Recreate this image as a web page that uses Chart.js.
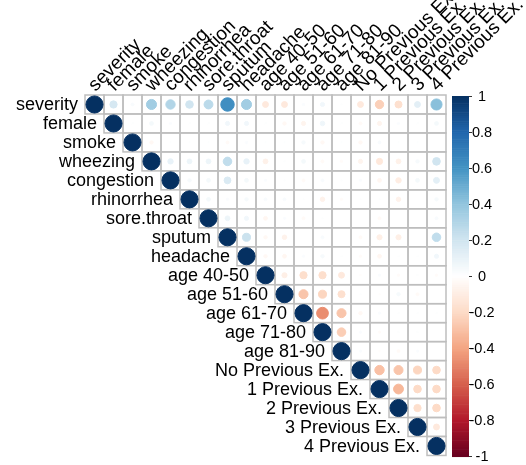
<!DOCTYPE html>
<html><head><meta charset="utf-8">
<script src="https://cdn.jsdelivr.net/npm/chart.js@4"></script>
<style>html,body{margin:0;padding:0;background:#fff}</style>
</head><body>
<canvas id="c" width="526" height="465"></canvas>
<script>
// variable names (rows and columns)
const variables = ["severity","female","smoke","wheezing","congestion","rhinorrhea","sore.throat","sputum","headache","age 40-50","age 51-60","age 61-70","age 71-80","age 81-90","No Previous Ex.","1 Previous Ex.","2 Previous Ex.","3 Previous Ex.","4 Previous Ex."];

// upper-triangle correlations, each row starts at the diagonal
const severity   = [1, 0.18, 0.03, 0.35, 0.30, 0.20, 0.27, 0.62, 0.35, -0.12, -0.12, 0.02, 0.06, 0.01, -0.12, -0.24, -0.17, 0.12, 0.42];
const female     = [1, 0.01, 0.05, 0.02, 0.01, 0.01, 0.06, 0.06, 0.01, -0.04, -0.06, 0.07, 0.01, -0.03, -0.06, 0.02, 0.01, 0.05];
const smoke      = [1, -0.04, 0.01, 0.01, 0.01, -0.03, 0.02, 0.01, 0.01, 0.04, -0.04, 0.01, -0.04, 0.03, 0.01, 0.01, 0.0];
const wheezing   = [1, 0.10, 0.08, 0.08, 0.25, 0.10, -0.08, 0.01, 0.05, -0.03, -0.02, -0.06, -0.13, -0.08, 0.04, 0.20];
const congestion = [1, 0.04, 0.05, 0.16, 0.05, 0.02, 0.01, -0.03, 0.03, 0.01, 0.02, -0.05, -0.10, 0.05, 0.12];
const rhinorrhea = [1, 0.05, 0.02, 0.04, 0.03, 0.03, 0.01, -0.07, -0.02, 0.01, 0.01, -0.07, 0.0, 0.04];
const soreThroat = [1, 0.08, 0.06, -0.05, 0.02, -0.03, 0.01, 0.0, 0.0, -0.03, 0.0, 0.0, 0.03];
const sputum     = [1, 0.22, -0.04, -0.07, 0.0, 0.03, 0.0, -0.03, -0.09, -0.09, 0.0, 0.25];
const headache   = [1, -0.04, -0.05, 0.02, 0.04, 0.01, -0.02, -0.05, 0.01, 0.01, 0.06];
const age4050    = [1, -0.09, -0.18, -0.18, -0.12, -0.01, 0.02, -0.02, 0.01, -0.02];
const age5160    = [1, -0.28, -0.22, -0.17, 0.01, -0.01, 0.04, -0.03, 0.0];
const age6170    = [1, -0.47, -0.28, -0.04, 0.02, 0.01, 0.01, 0.01];
const age7180    = [1, -0.25, 0.02, -0.02, 0.01, 0.01, 0.0];
const age8190    = [1, 0.02, -0.01, -0.03, 0.02, 0.0];
const noPrev     = [1, -0.30, -0.28, -0.22, -0.20];
const prev1      = [1, -0.33, -0.20, -0.20];
const prev2      = [1, -0.18, -0.20];
const prev3      = [1, -0.12];
const prev4      = [1];
const corrRows = [severity, female, smoke, wheezing, congestion, rhinorrhea, soreThroat, sputum, headache, age4050, age5160, age6170, age7180, age8190, noPrev, prev1, prev2, prev3, prev4];

// colour legend ticks
const legendValues = [1, 0.8, 0.6, 0.4, 0.2, 0, -0.2, -0.4, -0.6, -0.8, -1];
const legendLabels = ["1", "0.8", "0.6", "0.4", "0.2", "0", "-0.2", "-0.4", "-0.6", "-0.8", "-1"];

// RdBu palette from -1 to 1
const palette = ["#67001F","#B2182B","#D6604D","#F4A582","#FDDBC7","#FFFFFF","#D1E5F0","#92C5DE","#4393C3","#2166AC","#053061"];

function hex2rgb(h){return [parseInt(h.slice(1,3),16),parseInt(h.slice(3,5),16),parseInt(h.slice(5,7),16)];}
const palRGB = palette.map(hex2rgb);
function colorFor(v){
  const t = Math.max(0, Math.min(1, (v + 1) / 2)) * (palRGB.length - 1);
  const i = Math.min(palRGB.length - 2, Math.floor(t));
  const f = t - i;
  const a = palRGB[i], b = palRGB[i+1];
  const c = a.map((x,k)=>Math.round(x + (b[k]-x)*f));
  return `rgb(${c[0]},${c[1]},${c[2]})`;
}

const points = [];
corrRows.forEach((row, i) => row.forEach((v, k) => points.push({x: i + k, y: i, v: v})));

const n = variables.length;
const FONT = '"Liberation Sans", Arial, Helvetica, sans-serif';

const corrPlugin = {
  id: 'corr',
  beforeDatasetsDraw(chart){
    const {ctx, scales:{x, y}} = chart;
    const cw = x.getPixelForValue(1) - x.getPixelForValue(0);
    const ch = y.getPixelForValue(1) - y.getPixelForValue(0);
    ctx.save();
    ctx.strokeStyle = '#BEBEBE';
    ctx.lineWidth = 1.5;
    for (let i = 0; i < n; i++) for (let j = i; j < n; j++){
      const cx = x.getPixelForValue(j), cy = y.getPixelForValue(i);
      ctx.strokeRect(cx - cw/2, cy - ch/2, cw, ch);
    }
    ctx.restore();
  },
  afterDraw(chart){
    const {ctx, chartArea:a, scales:{x, y}} = chart;
    const cw = x.getPixelForValue(1) - x.getPixelForValue(0);
    ctx.save();
    ctx.fillStyle = '#000';
    ctx.font = '18px ' + FONT;
    // row labels
    ctx.textAlign = 'right';
    ctx.textBaseline = 'middle';
    variables.forEach((name, i) => {
      ctx.fillText(name, x.getPixelForValue(i) - cw/2 - 7, y.getPixelForValue(i) + 1);
    });
    // column labels
    ctx.font = '19px ' + FONT;
    ctx.textAlign = 'left';
    ctx.textBaseline = 'alphabetic';
    variables.forEach((name, j) => {
      ctx.save();
      ctx.translate(x.getPixelForValue(j) + 1, a.top - 3);
      ctx.rotate(-Math.PI/4);
      ctx.fillText(name, 0, 0);
      ctx.restore();
    });
    // colour legend
    const bx = a.right + 6, bw = 17, top = a.top + 1, bot = a.bottom + 1, H = bot - top;
    const steps = 200;
    for (let s = 0; s < steps; s++){
      const v1 = 1 - 2*s/steps, v2 = 1 - 2*(s+1)/steps;
      ctx.fillStyle = colorFor((v1 + v2)/2);
      const y1 = top + s*H/steps;
      ctx.fillRect(bx, y1, bw, H/steps + 0.6);
    }
    ctx.strokeStyle = '#333';
    ctx.lineWidth = 1;
    ctx.fillStyle = '#000';
    ctx.font = '14.5px ' + FONT;
    ctx.textAlign = 'center';
    ctx.textBaseline = 'middle';
    legendValues.forEach((v, k) => {
      const yy = top + (1 - v)/2 * H;
      ctx.beginPath();
      ctx.moveTo(bx + bw, Math.round(yy) + 0.5);
      ctx.lineTo(bx + bw + 3, Math.round(yy) + 0.5);
      ctx.stroke();
      ctx.fillText(legendLabels[k], bx + bw + 13, yy + 1);
    });
    ctx.restore();
  }
};

new Chart(document.getElementById('c'), {
  type: 'scatter',
  data: { datasets: [{
    data: points,
    pointRadius: c => {
      const a = c.chart.chartArea;
      const cell = a ? a.width / n : 19;
      return 0.45 * cell * Math.sqrt(Math.abs(c.raw.v));
    },
    pointBackgroundColor: c => colorFor(c.raw.v),
    pointBorderColor: c => colorFor(c.raw.v),
    pointBorderWidth: 1,
    pointHoverRadius: c => {
      const a = c.chart.chartArea;
      const cell = a ? a.width / n : 19;
      return 0.45 * cell * Math.sqrt(Math.abs(c.raw.v));
    }
  }]},
  options: {
    responsive: false,
    animation: false,
    events: [],
    layout: { padding: { left: 85, top: 95, right: 80, bottom: 9 } },
    scales: {
      x: { type: 'linear', min: -0.5, max: n - 0.5, display: false },
      y: { type: 'linear', min: -0.5, max: n - 0.5, reverse: true, display: false }
    },
    plugins: { legend: { display: false }, tooltip: { enabled: false } }
  },
  plugins: [corrPlugin]
});
</script>
</body></html>
